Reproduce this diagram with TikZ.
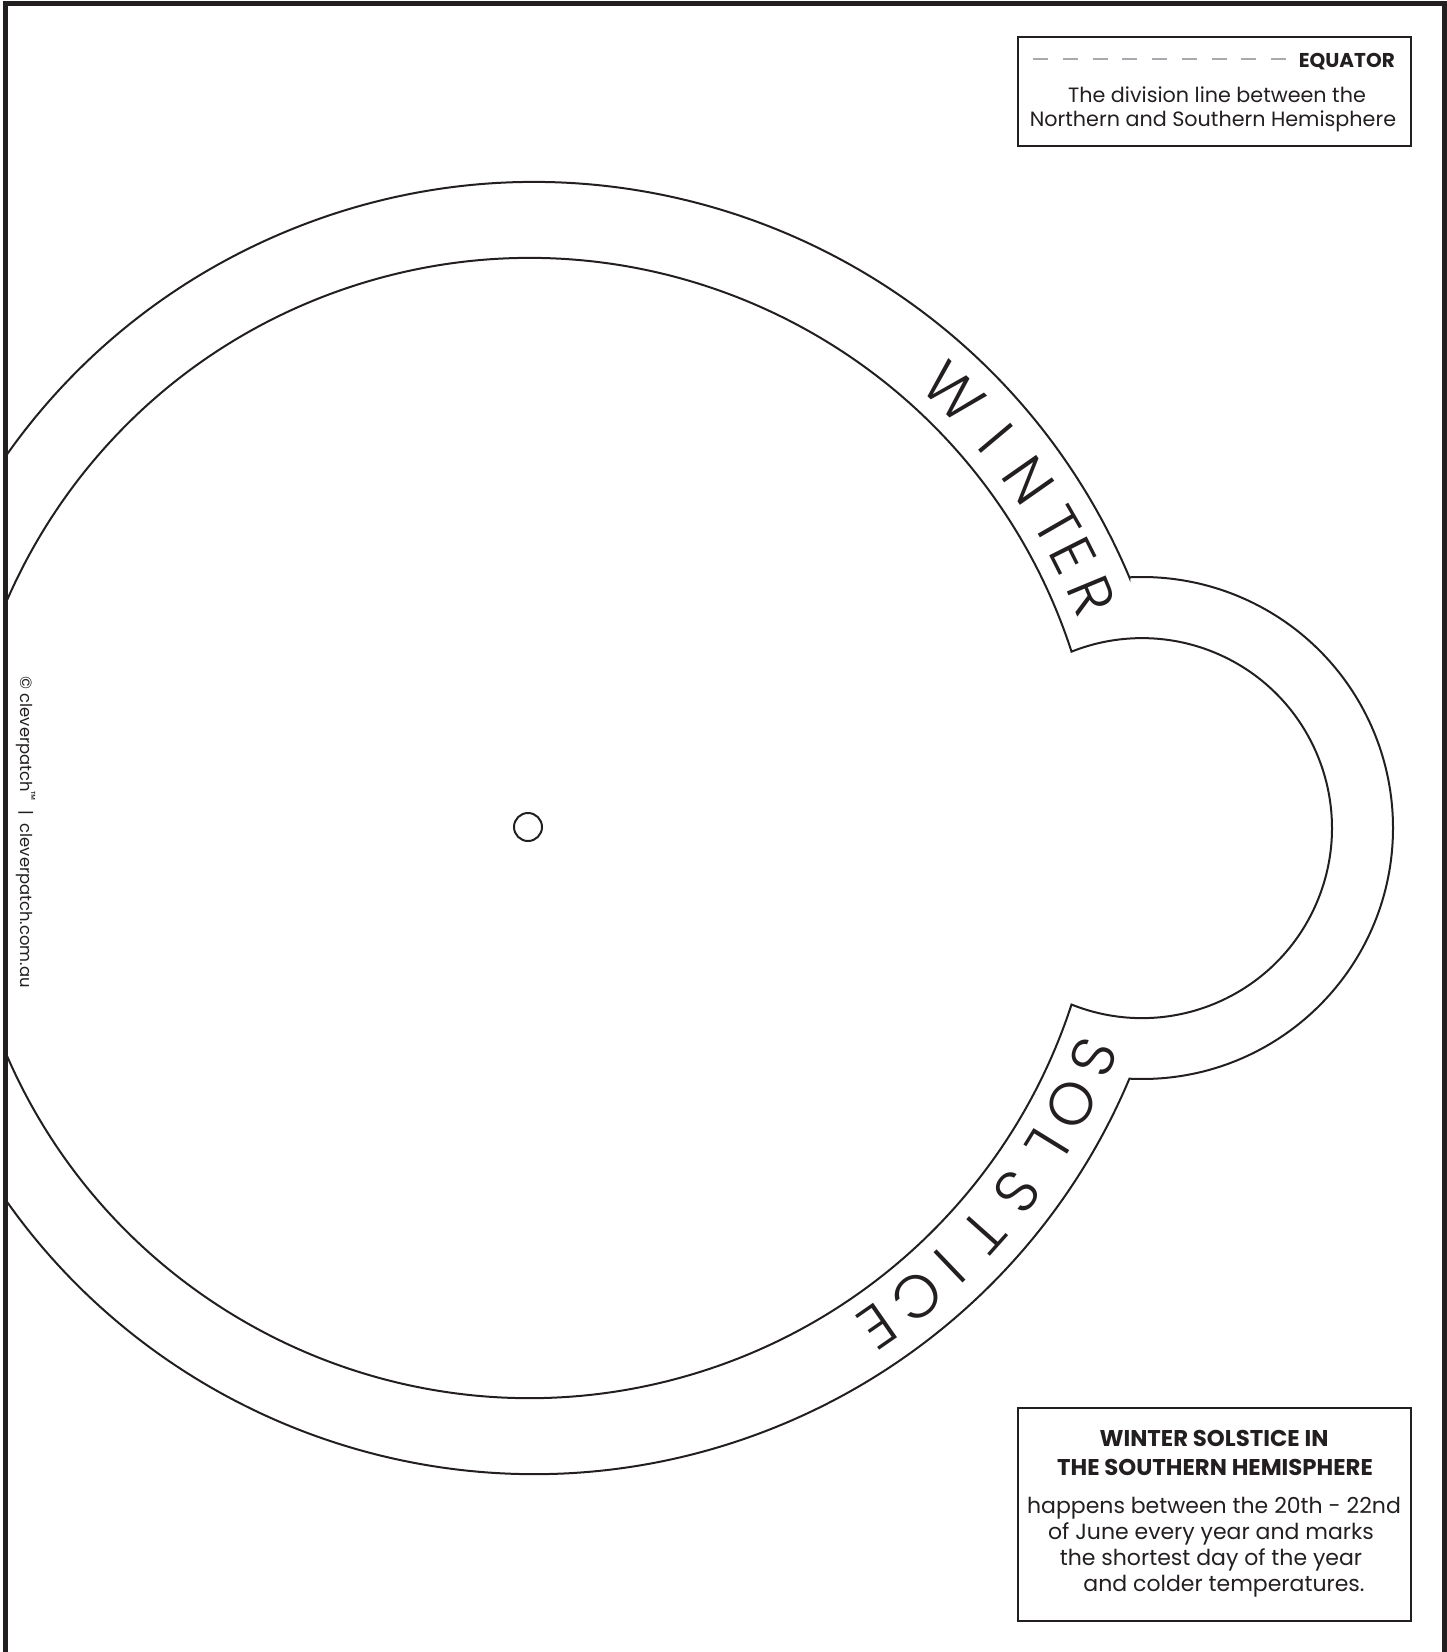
\documentclass[tikz,border=0pt]{standalone}
\usepackage{fontspec}
\setmainfont{Poppins}
\newfontfamily\ringfont{Poppins Light}
\definecolor{ink}{HTML}{231F20}
\definecolor{dashgray}{HTML}{A7A9AC}

\begin{document}
\begin{tikzpicture}[x=1pt,y=-1pt,
 ring/.style={draw=ink,line width=2pt},
 legend/.style={draw=ink,line width=1.5pt,minimum width=393pt,minimum height=109pt,inner sep=0pt},
 curved/.style={font=\ringfont\fontsize{60}{60}\selectfont,text=ink,inner sep=0pt},
 body/.style={font=\fontsize{20.7}{24}\selectfont,text=ink,anchor=base,inner sep=0pt},
 head/.style={font=\fontsize{20}{24}\selectfont\bfseries,text=ink,anchor=base,inner sep=0pt}]
\useasboundingbox (0,0) rectangle (1447,1652);
% the wheel: big circle with a lobe on the right
\begin{scope}
\clip (7,6) rectangle (1441,1652);
\draw[ring] (1129.4,577.4) arc[start angle=-22.83,end angle=-337.17,radius=646]
 arc[start angle=92.88,end angle=-92.88,radius=251] -- cycle;
\draw[ring] (1071.5,651.5) arc[start angle=-18.04,end angle=-341.96,radius=570]
 arc[start angle=111.77,end angle=-111.77,radius=190] -- cycle;
\end{scope}
\node[draw=ink,line width=2pt,circle,minimum size=28pt,inner sep=0pt] (hole) at (528,827) {};
% lettering round the ring
\coordinate (c) at (531,828);
\foreach \ch/\a [count=\i] in {W/45.9,I/40,N/35,T/29.9,E/26.7,R/22.5}
 \node[curved,rotate=\a-90] (win\i) at ([shift={(-\a:607)}]c) {\ch};
\foreach \ch/\a [count=\i] in {S/-22.2,O/-27.1,L/-31.6,S/-36.8,T/-41.7,I/-46.3,C/-50.5,E/-55.2}
 \node[curved,rotate=\a-90] (sol\i) at ([shift={(-\a:607)}]c) {\ch};
% copyright line
\node[rotate=-90,font=\fontsize{16.4}{16}\selectfont,text=ink] (copy) at (26,832)
 {© cleverpatch\textsuperscript{™}\ \ |\ \ cleverpatch.com.au};
% equator legend
\node[legend] (equator) at (1214.5,91.5) {};
\draw[dashgray,line width=1.5pt,dash pattern=on 15pt off 14.75pt] (1033,59) -- (1286,59);
\node[head,anchor=base east] (eqtitle) at (1395,67) {EQUATOR};
\node[body] (eqline1) at (1217,102) {The division line between the};
\node[body] (eqline2) at (1213,126) {Northern and Southern Hemisphere};
% solstice box
\node[legend,minimum height=213pt] (solbox) at (1214.5,1514.5) {};
\node[head,font=\fontsize{22.8}{24}\selectfont\bfseries] (soltitle1) at (1214,1446) {WINTER SOLSTICE IN};
\node[head,font=\fontsize{22.8}{24}\selectfont\bfseries] (soltitle2) at (1215,1475) {THE SOUTHERN HEMISPHERE};
\foreach \t/\x/\y [count=\i] in {happens between the 20th - 22nd/1214/1513,
 of June every year and marks/1211/1539,the shortest day of the year/1211/1565,
 and colder temperatures./1224/1591}
 \node[body,font=\fontsize{22}{24}\selectfont] (soltext\i) at (\x,\y) {\t};
% frame, open at the foot
\draw[ink,line width=5pt] (5,1652) -- (5,3.5) -- (1444,3.5) -- (1444,1652);
\end{tikzpicture}
\end{document}
